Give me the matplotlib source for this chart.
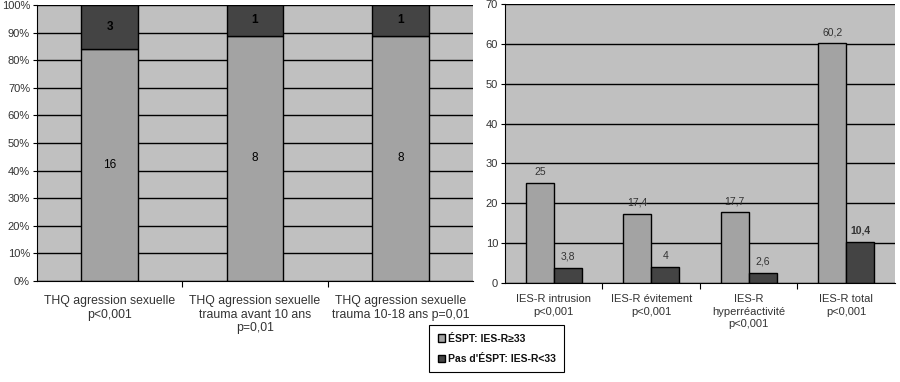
import matplotlib
matplotlib.use("Agg")
import matplotlib.pyplot as plt
from matplotlib.patches import Patch
import numpy as np

plt.rcParams['font.family'] = ['Liberation Sans', 'DejaVu Sans']

# left panel: counts per group (ESPT / pas d'ESPT), shown as 100% stacked
thq_labels = ["THQ agression sexuelle\np<0,001",
              "THQ agression sexuelle\ntrauma avant 10 ans\np=0,01",
              "THQ agression sexuelle\ntrauma 10-18 ans p=0,01"]
thq_espt = [16, 8, 8]
thq_pas = [3, 1, 1]

# right panel: mean IES-R scores
ies_labels = ["IES-R intrusion\np<0,001",
              "IES-R évitement\np<0,001",
              "IES-R\nhyperréactivité\np<0,001",
              "IES-R total\np<0,001"]
ies_espt = [25, 17.4, 17.7, 60.2]
ies_pas = [3.8, 4, 2.6, 10.4]

legend_labels = ["ÉSPT: IES-R≥33", "Pas d'ÉSPT: IES-R<33"]

BG = '#c0c0c0'
LIGHT = '#a3a3a3'
DARK = '#444444'
TXT = '#333333'


def fmt(v):
    s = f"{v:g}"
    return s.replace('.', ',')


def style_axes(ax):
    ax.set_facecolor(BG)
    for side in ['top', 'right']:
        ax.spines[side].set_visible(False)
    ax.spines['left'].set_color('black')
    ax.spines['bottom'].set_color('black')
    ax.yaxis.grid(True, color='black', linewidth=1.0)
    ax.set_axisbelow(True)
    ax.tick_params(axis='y', length=3, colors='black', labelcolor=TXT, labelsize=8, pad=2)
    ax.tick_params(axis='x', length=4, colors='black')


fig = plt.figure(figsize=(9, 3.82), dpi=100)

# ---- left panel
ax1 = fig.add_axes([0.0411, 0.2644, 0.4844, 0.7225])
style_axes(ax1)
x = np.arange(len(thq_labels))
tot = np.array(thq_espt) + np.array(thq_pas)
p_espt = np.array(thq_espt) / tot * 100
p_pas = np.array(thq_pas) / tot * 100
w1 = 0.39
ax1.bar(x, p_espt, w1, color=LIGHT, edgecolor='black', linewidth=1.0)
ax1.bar(x, p_pas, w1, bottom=p_espt, color=DARK, edgecolor='black', linewidth=1.0)
for i in range(len(x)):
    ax1.text(x[i], p_espt[i] / 2, str(thq_espt[i]), ha='center', va='center',
             fontsize=8.5, color='black')
    ax1.text(x[i], p_espt[i] + p_pas[i] / 2, str(thq_pas[i]), ha='center', va='center',
             fontsize=8.5, color='black', fontweight='bold')
ax1.set_xlim(-0.5, len(x) - 0.5)
ax1.set_ylim(0, 100)
ax1.set_yticks(np.arange(0, 101, 10))
ax1.set_yticklabels([f"{v}%" for v in range(0, 101, 10)])
ax1.set_xticks(np.arange(0.5, len(x) - 1, 1.0))
ax1.set_xticklabels([])
for i, lab in enumerate(thq_labels):
    ax1.text(x[i], -5, lab, ha='center', va='top', fontsize=8.8, color=TXT,
             linespacing=1.2)

# ---- right panel
ax2 = fig.add_axes([0.5611, 0.2592, 0.4333, 0.7303])
style_axes(ax2)
x2 = np.arange(len(ies_labels))
w2 = 0.286
ax2.bar(x2 - w2 / 2, ies_espt, w2, color=LIGHT, edgecolor='black', linewidth=1.0)
ax2.bar(x2 + w2 / 2, ies_pas, w2, color=DARK, edgecolor='black', linewidth=1.0)
for i in range(len(x2)):
    ax2.text(x2[i] - w2 / 2, ies_espt[i] + 1.5, fmt(ies_espt[i]), ha='center', va='bottom',
             fontsize=7.5, color=TXT)
    ax2.text(x2[i] + w2 / 2, ies_pas[i] + 1.5, fmt(ies_pas[i]), ha='center', va='bottom',
             fontsize=7.5, color=TXT, fontweight='bold' if i == 3 else 'normal')
ax2.set_xlim(-0.5, len(x2) - 0.5)
ax2.set_ylim(0, 70)
ax2.set_yticks(np.arange(0, 71, 10))
ax2.set_xticks(np.arange(0.5, len(x2) - 1, 1.0))
ax2.set_xticklabels([])
for i, lab in enumerate(ies_labels):
    ax2.text(x2[i], -2.8, lab, ha='center', va='top', fontsize=8, color=TXT,
             linespacing=1.3)

# ---- legend
handles = [Patch(facecolor=LIGHT, edgecolor='black', linewidth=1.0),
           Patch(facecolor=DARK, edgecolor='black', linewidth=1.0)]
leg = fig.legend(handles, legend_labels, loc='center', bbox_to_anchor=(0.552, 0.087),
                 fancybox=False, edgecolor='black', framealpha=1,
                 prop={'size': 7.5, 'weight': 'bold'}, handlelength=0.7, handleheight=0.7,
                 handletextpad=0.3, borderpad=0.8, labelspacing=1.0, borderaxespad=0)
leg.get_frame().set_linewidth(0.8)
for t in leg.get_texts():
    t.set_color('#111111')

fig.savefig('out.png', dpi=100, facecolor='white')
